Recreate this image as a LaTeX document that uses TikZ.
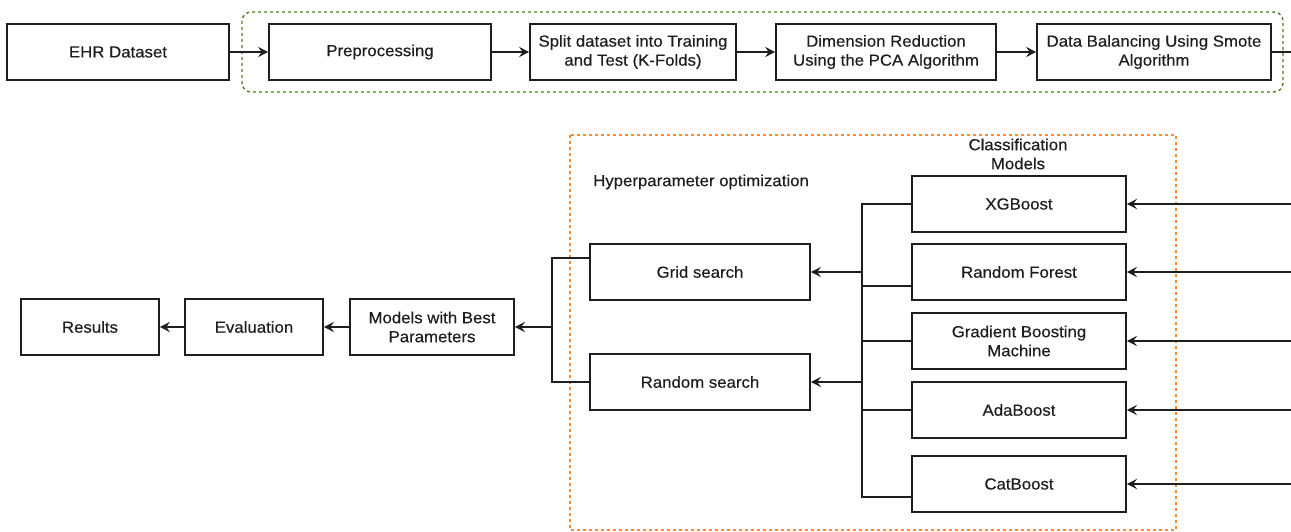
\documentclass[tikz,border=0pt]{standalone}
\usepackage{fontspec}
\setmainfont{Liberation Sans}[FakeStretch=1.05,FakeBold=0.4]
\usetikzlibrary{arrows.meta}
\definecolor{grn}{RGB}{77,128,26}
\definecolor{org}{RGB}{255,140,40}
\definecolor{ink}{RGB}{30,30,30}
\begin{document}
\begin{tikzpicture}[x=1pt,y=-1pt,
  box/.style={draw=ink,line width=1.6pt,inner sep=0pt,align=center,text=ink,
    font=\fontsize{16}{19}\selectfont},
  sz/.style 2 args={minimum width=#1pt,minimum height=#2pt},
  conn/.style={draw=ink,line width=1.6pt},
  arr/.style={conn,-{Stealth[length=10pt,width=10pt,inset=3.5pt]}},
  lbl/.style={text=ink,inner sep=0pt,align=center,font=\fontsize{16}{19}\selectfont}]
\useasboundingbox (0,0) rectangle (1291,532);
% top group frame
\draw[grn,line width=1.4pt,dash pattern=on 3pt off 3pt,rounded corners=9pt] (242,12) rectangle (1283,92);
% top row
\node[box,sz={222}{56}] (ehr) at (118,52) {EHR Dataset};
\node[box,sz={222}{56}] (pre) at (380,52) {Preprocessing};
\node[box,sz={206}{56}] (split) at (633,52) {Split dataset into Training\\and Test (K-Folds)};
\node[box,sz={220}{56}] (dim) at (886,52) {Dimension Reduction\\Using the PCA Algorithm};
\node[box,sz={234}{56}] (db) at (1154,52) {Data Balancing Using Smote\\Algorithm};
\coordinate (dbout) at (1291,52);
\draw[arr] (ehr.east) -- (pre.west);
\draw[arr] (pre.east) -- (split.west);
\draw[arr] (split.east) -- (dim.west);
\draw[arr] (dim.east) -- (db.west);
\draw[conn] (db.east) -- (dbout);
% hyperparameter frame
\draw[org,line width=1.4pt,dash pattern=on 3pt off 3pt] (570,135) rectangle (1176,530);
\node[lbl] (cmlbl) at (1018,154) {Classification\\Models};
\node[lbl,anchor=west] (hplbl) at (593,182) {Hyperparameter optimization};
% models
\node[box,sz={214}{56}] (xgb) at (1019,204) {XGBoost};
\node[box,sz={214}{56}] (rf) at (1019,272) {Random Forest};
\node[box,sz={214}{56}] (gbm) at (1019,341) {Gradient Boosting\\Machine};
\node[box,sz={214}{56}] (ada) at (1019,410) {AdaBoost};
\node[box,sz={214}{56}] (cat) at (1019,484) {CatBoost};
\coordinate (rE) at (1291,0);
\foreach \m in {xgb,rf,gbm,ada,cat}{\draw[arr] (\m.east -| rE) -- (\m.east);}
% search boxes
\node[box,sz={220}{56}] (grid) at (700,272) {Grid search};
\node[box,sz={220}{56}] (rnd) at (700,382) {Random search};
% bus
\coordinate (bt) at (862,204);
\coordinate (bb) at (862,497);
\coordinate (rfy) at (862,286);
\draw[conn] (xgb.west) -- (bt) -- (bb) -- (cat.west |- bb);
\draw[conn] (rfy) -- (rf.west |- rfy);
\draw[conn] (gbm.west) -- (gbm.west -| bt);
\draw[conn] (ada.west) -- (ada.west -| bt);
\draw[arr] (grid.east -| bt) -- (grid.east);
\draw[arr] (rnd.east -| bt) -- (rnd.east);
% left part
\node[box,sz={164}{56}] (mbp) at (432,327) {Models with Best\\Parameters};
\node[box,sz={138}{56}] (ev) at (254,327) {Evaluation};
\node[box,sz={138}{56}] (res) at (90,327) {Results};
\coordinate (kt) at (552,258);
\coordinate (kb) at (552,382);
\draw[conn] (grid.west |- kt) -- (kt) -- (kb) -- (rnd.west);
\draw[arr] (kt |- mbp.east) -- (mbp.east);
\draw[arr] (mbp.west) -- (ev.east);
\draw[arr] (ev.west) -- (res.east);
\end{tikzpicture}
\end{document}
